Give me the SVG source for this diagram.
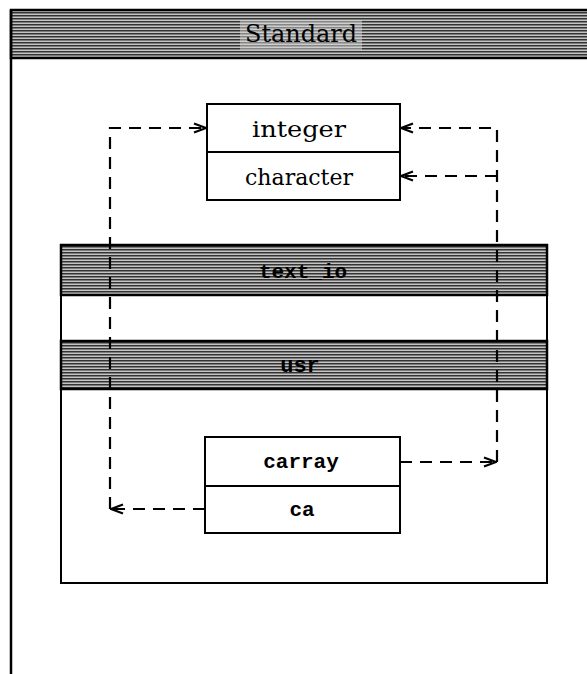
<svg xmlns="http://www.w3.org/2000/svg" width="587" height="674" viewBox="0 0 587 674">
<style>
.box{fill:#fff;stroke:#000;stroke-width:2}
.band{fill:url(#halftone);stroke:#000;stroke-width:2.5}
.serif{font-family:"DejaVu Serif","Liberation Serif",serif;font-size:22px;fill:#000;text-anchor:middle}
.mono{font-family:"Liberation Mono","DejaVu Sans Mono",monospace;font-size:21px;font-weight:bold;fill:#000;text-anchor:middle}
.dash{fill:none;stroke:#000;stroke-width:2.2;stroke-dasharray:12 8}
</style>
<defs>
<pattern id="halftone" width="6" height="3" patternUnits="userSpaceOnUse">
<rect width="6" height="3" fill="#c4c4c4"/>
<rect width="6" height="1.5" fill="#333"/>
</pattern>
<marker id="arr" viewBox="0 0 14 12" refX="13" refY="6" markerWidth="14" markerHeight="12" orient="auto" markerUnits="userSpaceOnUse">
<path d="M1,1.5 L13,6 L1,10.5" fill="none" stroke="#000" stroke-width="2.2"/>
</marker>
</defs>
<rect width="587" height="674" fill="#fff"/>
<g id="standard">
<rect x="11" y="10" width="580" height="48" class="band"/>
<line x1="11" y1="10" x2="11" y2="674" stroke="#000" stroke-width="2.5"/>
<rect x="240" y="20" width="122" height="30" fill="#d8d8d8" opacity="0.5"/>
<text x="301" y="42" class="serif" style="font-size:24px" textLength="112" lengthAdjust="spacingAndGlyphs">Standard</text>
</g>
<g id="integer-character">
<rect x="207" y="104" width="193" height="96" class="box"/>
<line x1="207" y1="152" x2="400" y2="152" stroke="#000" stroke-width="2"/>
<text x="299" y="137" class="serif" textLength="94" lengthAdjust="spacingAndGlyphs">integer</text>
<text x="299" y="185" class="serif" textLength="108" lengthAdjust="spacingAndGlyphs">character</text>
</g>
<g id="text_io">
<rect x="61" y="245" width="486" height="338" class="box"/>
<rect x="61" y="245" width="486" height="50" class="band"/>
<text x="303" y="278" class="mono">text_io</text>
</g>
<g id="usr">
<rect x="61" y="341" width="486" height="48" class="band"/>
<text x="300" y="372" class="mono" style="font-size:22px">usr</text>
</g>
<g id="carray-ca">
<rect x="205" y="437" width="195" height="96" class="box"/>
<line x1="205" y1="486" x2="400" y2="486" stroke="#000" stroke-width="2"/>
<text x="301" y="468" class="mono">carray</text>
<text x="302" y="516" class="mono">ca</text>
</g>
<g id="connectors">
<path d="M205,509 L111,509" class="dash" marker-end="url(#arr)"/>
<path d="M110,509 L110,128 L206,128" class="dash" marker-end="url(#arr)"/>
<path d="M400,462 L496,462" class="dash" marker-end="url(#arr)"/>
<path d="M497,462 L497,128 L401,128" class="dash" marker-end="url(#arr)"/>
<path d="M497,176 L401,176" class="dash" marker-end="url(#arr)"/>
</g>
</svg>
